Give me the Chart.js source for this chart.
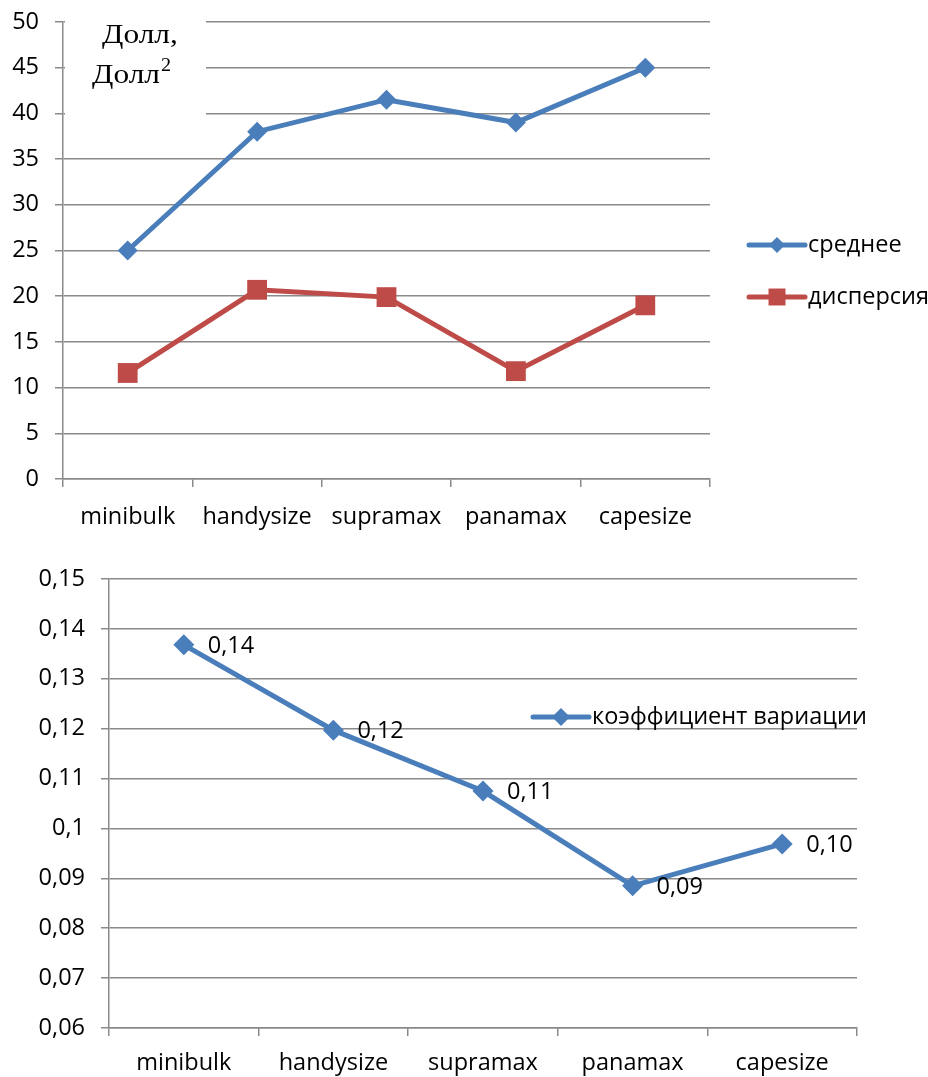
<!DOCTYPE html>
<html>
<head>
<meta charset="utf-8">
<style>
  html, body { margin: 0; padding: 0; background: #fff; width: 928px; height: 1077px; overflow: hidden; }
  canvas { position: absolute; left: 0; display: block; }
  #c1 { top: 0; }
  #c2 { top: 545px; }
</style>
<script src="https://cdn.jsdelivr.net/npm/chart.js@4.4.0/dist/chart.umd.min.js"></script>
</head>
<body>
<canvas id="c1" width="928" height="545"></canvas>
<canvas id="c2" width="928" height="532"></canvas>
<script>
// Vessel classes
const categories = ['minibulk', 'handysize', 'supramax', 'panamax', 'capesize'];

// Mean rate and its variance per class
const meanValues = [25, 38, 41.5, 39, 45];
const varianceValues = [11.6, 20.7, 19.9, 11.8, 19.0];

// Coefficient of variation per class
const cvValues = [0.1368, 0.1197, 0.1075, 0.0885, 0.0969];

// Axis tick values
const topYTicks = [0, 5, 10, 15, 20, 25, 30, 35, 40, 45, 50];
const bottomYTicks = [0.06, 0.07, 0.08, 0.09, 0.10, 0.11, 0.12, 0.13, 0.14, 0.15];

// Series names
const meanLabel = 'среднее';
const varianceLabel = 'дисперсия';
const cvLabel = 'коэффициент вариации';
const unitLine1 = 'Долл,';
const unitLine2 = 'Долл';

const BLUE = '#4a7ebb';
const RED = '#be4b48';
const GRID = '#8a8a8a';
const FONT = "'Open Sans', sans-serif";
const FONT_SIZE = 23.5;

const commaNum = v => String(Number(v.toFixed(2))).replace('.', ',');

// Legend drawn as line + marker + text rows at fixed spots
const lineLegend = {
  id: 'lineLegend',
  afterDraw(chart, args, opts) {
    const ctx = chart.ctx;
    ctx.save();
    chart.data.datasets.forEach((ds, i) => {
      const y = opts.y + i * opts.rowGap;
      const x0 = opts.x, x1 = opts.x + opts.lineLen;
      ctx.strokeStyle = ds.borderColor;
      ctx.lineWidth = ds.borderWidth;
      ctx.lineCap = 'round';
      ctx.beginPath();
      ctx.moveTo(x0, y);
      ctx.lineTo(x1, y);
      ctx.stroke();
      ctx.fillStyle = ds.pointBackgroundColor;
      ctx.strokeStyle = ds.pointBackgroundColor;
      Chart.helpers.drawPoint(ctx, {
        pointStyle: ds.pointStyle,
        radius: opts.markerRadius[i],
        rotation: 0,
        borderWidth: 0
      }, (x0 + x1) / 2, y);
      ctx.fillStyle = '#000';
      ctx.font = FONT_SIZE + 'px ' + FONT;
      ctx.textAlign = 'left';
      ctx.textBaseline = 'middle';
      ctx.fillText(ds.label, x1 + 3, y);
    });
    ctx.restore();
  }
};

// Unit caption in the upper-left corner of the plot area
const unitCaption = {
  id: 'unitCaption',
  afterDatasetsDraw(chart, args, opts) {
    if (!opts || !opts.show) return;
    const ctx = chart.ctx;
    ctx.save();
    ctx.fillStyle = '#fff';
    ctx.fillRect(65, 8, 141, 117);
    ctx.fillStyle = '#000';
    ctx.textAlign = 'left';
    ctx.textBaseline = 'alphabetic';
    ctx.font = "28px 'Liberation Serif', serif";
    ctx.save();
    ctx.translate(102, 43);
    ctx.scale(1.12, 1);
    ctx.fillText(unitLine1, 0, 0);
    ctx.restore();
    ctx.save();
    ctx.translate(92, 83);
    ctx.scale(1.12, 1);
    ctx.fillText(unitLine2, 0, 0);
    const w = ctx.measureText(unitLine2).width;
    ctx.font = "18px 'Liberation Serif', serif";
    ctx.fillText('2', w + 1, -12);
    ctx.restore();
    ctx.restore();
  }
};

// Value labels to the right of each point
const pointValues = {
  id: 'pointValues',
  afterDatasetsDraw(chart, args, opts) {
    if (!opts || !opts.show) return;
    const ctx = chart.ctx;
    ctx.save();
    ctx.fillStyle = '#000';
    ctx.font = FONT_SIZE + 'px ' + FONT;
    ctx.textAlign = 'left';
    ctx.textBaseline = 'middle';
    chart.data.datasets.forEach((ds, di) => {
      const meta = chart.getDatasetMeta(di);
      meta.data.forEach((pt, i) => {
        ctx.fillText(ds.data[i].toFixed(2).replace('.', ','), pt.x + 24, pt.y + 1);
      });
    });
    ctx.restore();
  }
};

function xScale(height, pad) {
  return {
    type: 'category',
    offset: true,
    grid: { display: true, offset: true, drawOnChartArea: false, drawTicks: true, tickLength: 8, color: GRID, lineWidth: 1.5 },
    border: { display: true, color: GRID, width: 1.5 },
    ticks: { color: '#000', font: { family: FONT, size: FONT_SIZE }, padding: pad, maxRotation: 0, autoSkip: false },
    afterFit(scale) { scale.height = height; scale.paddingLeft = 0; scale.paddingRight = 0; }
  };
}

function yScale(min, max, tickValues, width, fmt) {
  return {
    min: min, max: max,
    grid: { color: GRID, lineWidth: 1.5, drawTicks: true, tickLength: 8 },
    border: { display: true, color: GRID, width: 1.5 },
    ticks: { color: '#000', font: { family: FONT, size: FONT_SIZE }, padding: 16, callback: fmt },
    afterBuildTicks(scale) { scale.ticks = tickValues.map(v => ({ value: v })); },
    afterFit(scale) { scale.width = width; scale.paddingTop = 0; scale.paddingBottom = 0; }
  };
}

new Chart(document.getElementById('c1'), {
  type: 'line',
  data: {
    labels: categories,
    datasets: [
      {
        label: meanLabel, data: meanValues,
        borderColor: BLUE, backgroundColor: BLUE, borderWidth: 5,
        pointStyle: 'rectRot', pointRadius: 10, pointBackgroundColor: BLUE, pointBorderWidth: 0,
        tension: 0, clip: false
      },
      {
        label: varianceLabel, data: varianceValues,
        borderColor: RED, backgroundColor: RED, borderWidth: 5,
        pointStyle: 'rect', pointRadius: 14, pointBackgroundColor: RED, pointBorderWidth: 0,
        tension: 0, clip: false
      }
    ]
  },
  options: {
    responsive: false, animation: false,
    layout: { padding: { top: 22, right: 218, left: 0, bottom: 0 } },
    plugins: {
      legend: { display: false }, tooltip: { enabled: false },
      lineLegend: { x: 749, y: 245, rowGap: 52, lineLen: 56, markerRadius: [8, 12] },
      unitCaption: { show: true }
    },
    scales: {
      x: xScale(66, 16),
      y: yScale(0, 50, topYTicks, 63, v => String(v))
    }
  },
  plugins: [unitCaption, lineLegend]
});

new Chart(document.getElementById('c2'), {
  type: 'line',
  data: {
    labels: categories,
    datasets: [
      {
        label: cvLabel, data: cvValues,
        borderColor: BLUE, backgroundColor: BLUE, borderWidth: 5,
        pointStyle: 'rectRot', pointRadius: 10.5, pointBackgroundColor: BLUE, pointBorderWidth: 0,
        tension: 0, clip: false
      }
    ]
  },
  options: {
    responsive: false, animation: false,
    layout: { padding: { top: 34, right: 71, left: 0, bottom: 0 } },
    plugins: {
      legend: { display: false }, tooltip: { enabled: false },
      lineLegend: { x: 533, y: 172, rowGap: 0, lineLen: 56, markerRadius: [9] },
      pointValues: { show: true }
    },
    scales: {
      x: xScale(49, 13),
      y: yScale(0.06, 0.15, bottomYTicks, 109, v => commaNum(v))
    }
  },
  plugins: [pointValues, lineLegend]
});
</script>
</body>
</html>
